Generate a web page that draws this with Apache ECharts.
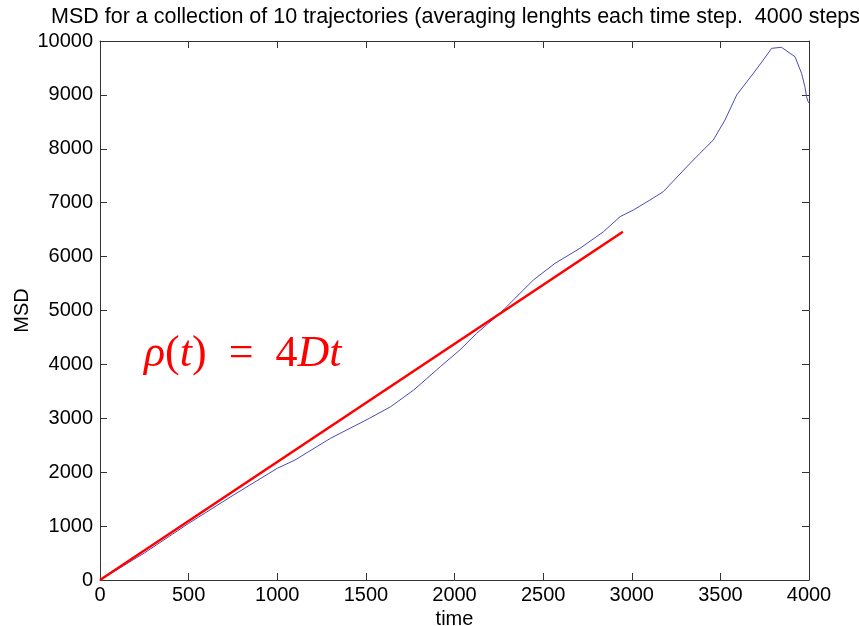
<!DOCTYPE html>
<html>
<head>
<meta charset="utf-8">
<script src="https://cdn.jsdelivr.net/npm/echarts@6/dist/echarts.min.js"></script>
<style>
html,body{margin:0;padding:0;background:#fff;}
#chart{width:859px;height:626px;}
</style>
</head>
<body>
<div id="chart"></div>
<script>
const titleText = 'MSD for a collection of 10 trajectories (averaging lenghts each time step.  4000 steps)';
const xLabel = 'time';
const yLabel = 'MSD';
const msdTime = [0, 250, 500, 750, 1000, 1100, 1300, 1520, 1640, 1770, 1920, 2030, 2125, 2257, 2445, 2567, 2708, 2840, 2934, 3009, 3103, 3178, 3329, 3385, 3460, 3526, 3592, 3686, 3742, 3789, 3845, 3893, 3921, 3958, 3977, 3986, 3995, 4000];
const msdValue = [0, 500, 1050, 1570, 2072, 2226, 2628, 3000, 3216, 3525, 3958, 4267, 4577, 4948, 5566, 5875, 6154, 6460, 6741, 6865, 7050, 7205, 7730, 7916, 8163, 8534, 8998, 9400, 9647, 9864, 9883, 9771, 9709, 9400, 9152, 8967, 8874, 8850];
const fitTime = [0, 2950];
const fitValue = [0, 6460];

const axisColor = '#333';
const chart = echarts.init(document.getElementById('chart'), null, {renderer: 'canvas'});
const tickFont = {fontFamily: 'Liberation Sans, Arial, sans-serif', fontSize: 20, color: '#000'};
function mkX(pos, show) {
  return {
    type: 'value', position: pos, min: 0, max: 4000, interval: 500,
    axisLine: {show: true, onZero: false, lineStyle: {color: axisColor, width: 1}},
    axisTick: {show: true, inside: true, length: 7, lineStyle: {color: axisColor}},
    axisLabel: Object.assign({show: show, margin: 5, formatter: v => String(v)}, tickFont),
    splitLine: {show: false},
    name: show ? xLabel : '', nameLocation: 'middle', nameGap: 29,
    nameTextStyle: tickFont
  };
}
function mkY(pos, show) {
  return {
    type: 'value', position: pos, min: 0, max: 10000, interval: 1000,
    axisLine: {show: true, onZero: false, lineStyle: {color: axisColor, width: 1}},
    axisTick: {show: true, inside: true, length: 7, lineStyle: {color: axisColor}},
    axisLabel: Object.assign({show: show, margin: 7, formatter: v => String(v)}, tickFont),
    splitLine: {show: false},
    name: show ? yLabel : '', nameLocation: 'middle', nameGap: 68,
    nameMoveOverlap: false,
    nameTextStyle: tickFont
  };
}
chart.setOption({
  animation: false,
  backgroundColor: '#fff',
  title: {
    text: titleText, left: 46, top: 1,
    textStyle: {fontFamily: 'Liberation Sans, Arial, sans-serif', fontSize: 21.5, fontWeight: 'normal', color: '#000'}
  },
  grid: {left: 100, top: 41, right: 50, bottom: 46, containLabel: false, outerBoundsMode: 'none'},
  xAxis: [mkX('bottom', true), mkX('top', false)],
  yAxis: [mkY('left', true), mkY('right', false)],
  series: [
    {
      type: 'line', xAxisIndex: 0, yAxisIndex: 0,
      data: msdTime.map((t, i) => [t, msdValue[i]]),
      showSymbol: false, smooth: false,
      lineStyle: {color: '#4b4bb0', width: 1}
    },
    {
      type: 'line', xAxisIndex: 0, yAxisIndex: 0,
      data: fitTime.map((t, i) => [t, fitValue[i]]),
      showSymbol: false,
      lineStyle: {color: '#ff0000', width: 2.5}
    }
  ],
  graphic: [{
    type: 'text', left: 144, top: 332,
    style: {
      text: '{i|ρ}{n|(}{i|t}{n|)  =  4}{i|Dt}',
      fill: '#ff0000',
      font: '44px "Liberation Serif", serif',
      rich: {
        i: {fontFamily: 'Liberation Serif', fontSize: 44, fontStyle: 'italic', fill: '#ff0000'},
        n: {fontFamily: 'Liberation Serif', fontSize: 44, fill: '#ff0000'}
      }
    }
  }]
});
</script>
</body>
</html>
